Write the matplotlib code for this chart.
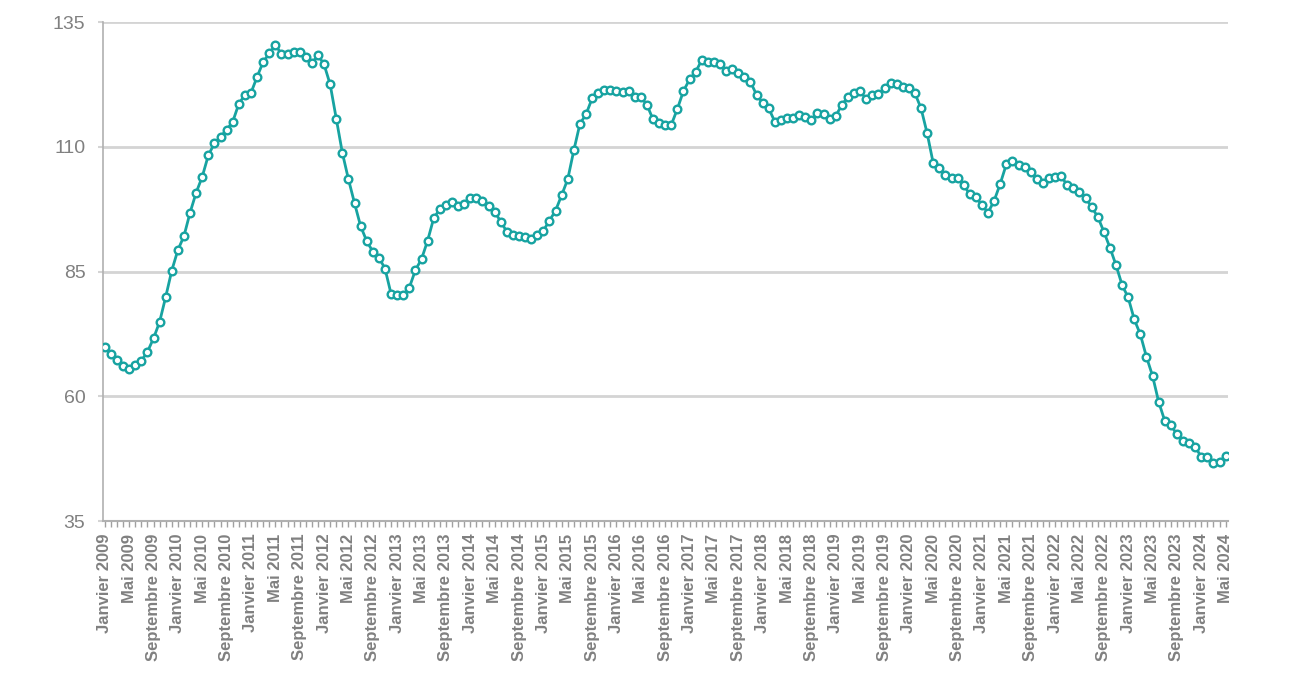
import matplotlib
matplotlib.use("Agg")
import matplotlib.pyplot as plt
import numpy as np

# Indice mensuel, janvier 2009 -> mai 2024
mois = ["Janvier", "Février", "Mars", "Avril", "Mai", "Juin", "Juillet",
        "Août", "Septembre", "Octobre", "Novembre", "Décembre"]
annees = list(range(2009, 2025))

valeurs = [
    69.8, 68.4, 67.3, 66.1, 65.4, 66.3, 67.1, 68.9, 71.6, 74.9, 79.9, 85.2,         # 2009
    89.3, 92.1, 96.8, 100.8, 104.0, 108.3, 110.7, 112.0, 113.4, 115.0, 118.6, 120.4,  # 2010
    120.8, 124.0, 127.0, 128.7, 130.4, 128.6, 128.6, 128.9, 128.9, 127.9, 126.7, 128.4,  # 2011
    126.5, 122.5, 115.6, 108.8, 103.5, 98.7, 94.1, 91.1, 89.0, 87.8, 85.6, 80.5,     # 2012
    80.3, 80.3, 81.8, 85.3, 87.5, 91.2, 95.7, 97.5, 98.3, 99.0, 98.1, 98.5,          # 2013
    99.7, 99.7, 99.2, 98.1, 97.0, 95.0, 93.0, 92.3, 92.1, 92.0, 91.6, 92.3,          # 2014
    93.2, 95.2, 97.2, 100.3, 103.5, 109.3, 114.6, 116.5, 119.7, 120.8, 121.4, 121.4,  # 2015
    121.2, 120.9, 121.2, 120.0, 120.0, 118.4, 115.5, 114.8, 114.4, 114.4, 117.6, 121.2,  # 2016
    123.5, 125.0, 127.4, 126.9, 126.9, 126.6, 125.2, 125.5, 124.7, 123.9, 123.0, 120.4,  # 2017
    118.8, 117.7, 115.0, 115.4, 115.7, 115.7, 116.4, 116.0, 115.3, 116.8, 116.5, 115.6,  # 2018
    116.2, 118.4, 120.0, 120.8, 121.2, 119.5, 120.4, 120.6, 121.7, 122.8, 122.6, 122.0,  # 2019
    121.7, 120.7, 117.7, 112.7, 106.7, 105.7, 104.3, 103.7, 103.7, 102.3, 100.5, 99.9,  # 2020
    98.3, 96.8, 99.2, 102.6, 106.5, 107.1, 106.4, 105.9, 104.9, 103.5, 102.8, 103.7,  # 2021
    104.0, 104.1, 102.3, 101.7, 101.0, 99.8, 97.9, 96.0, 93.0, 89.8, 86.3, 82.3,     # 2022
    79.8, 75.4, 72.4, 67.9, 64.1, 58.9, 55.1, 54.2, 52.4, 51.1, 50.7, 49.8,          # 2023
    47.9, 47.9, 46.7, 46.9, 48.0,                                                    # 2024
]

y_ticks = [35, 60, 85, 110, 135]

labels = [f"{mois[i % 12]} {annees[i // 12]}" for i in range(len(valeurs))]
x = np.arange(len(valeurs))

teal = "#17a3a1"
gris = "#808080"

fig = plt.figure(figsize=(12.9, 6.89), dpi=100)
ax = fig.add_axes([0.0798, 0.2438, 0.8722, 0.7242])

ax.plot(x, valeurs, color=teal, linewidth=2.0, marker="o", markersize=5.5,
        markerfacecolor="white", markeredgecolor=teal, markeredgewidth=1.7,
        zorder=3)

ax.set_ylim(35, 135)
ax.set_xlim(-0.3, len(valeurs) - 0.6)
ax.set_yticks(y_ticks)
ax.set_yticklabels([str(v) for v in y_ticks], fontsize=14, color=gris,
                   family="Liberation Sans")
ax.grid(axis="y", color="#d4d4d4", linewidth=2)
ax.set_axisbelow(True)

major = x[::4]
ax.set_xticks(major)
ax.set_xticklabels([labels[i] for i in major], rotation=90, fontsize=12,
                   fontweight="bold", color=gris, family="Liberation Sans")
ax.set_xticks(x, minor=True)
ax.tick_params(axis="x", which="both", length=4, color="#a0a0a0", width=1,
               pad=5)
ax.tick_params(axis="y", length=3.6, color="#d4d4d4", width=1.5, pad=9)

for s in ["top", "right"]:
    ax.spines[s].set_visible(False)
ax.spines["left"].set_color("#b0b0b0")
ax.spines["bottom"].set_color("#b0b0b0")
ax.spines["left"].set_linewidth(1.2)
ax.spines["bottom"].set_linewidth(1.5)

fig.savefig("out.png", dpi=100)
